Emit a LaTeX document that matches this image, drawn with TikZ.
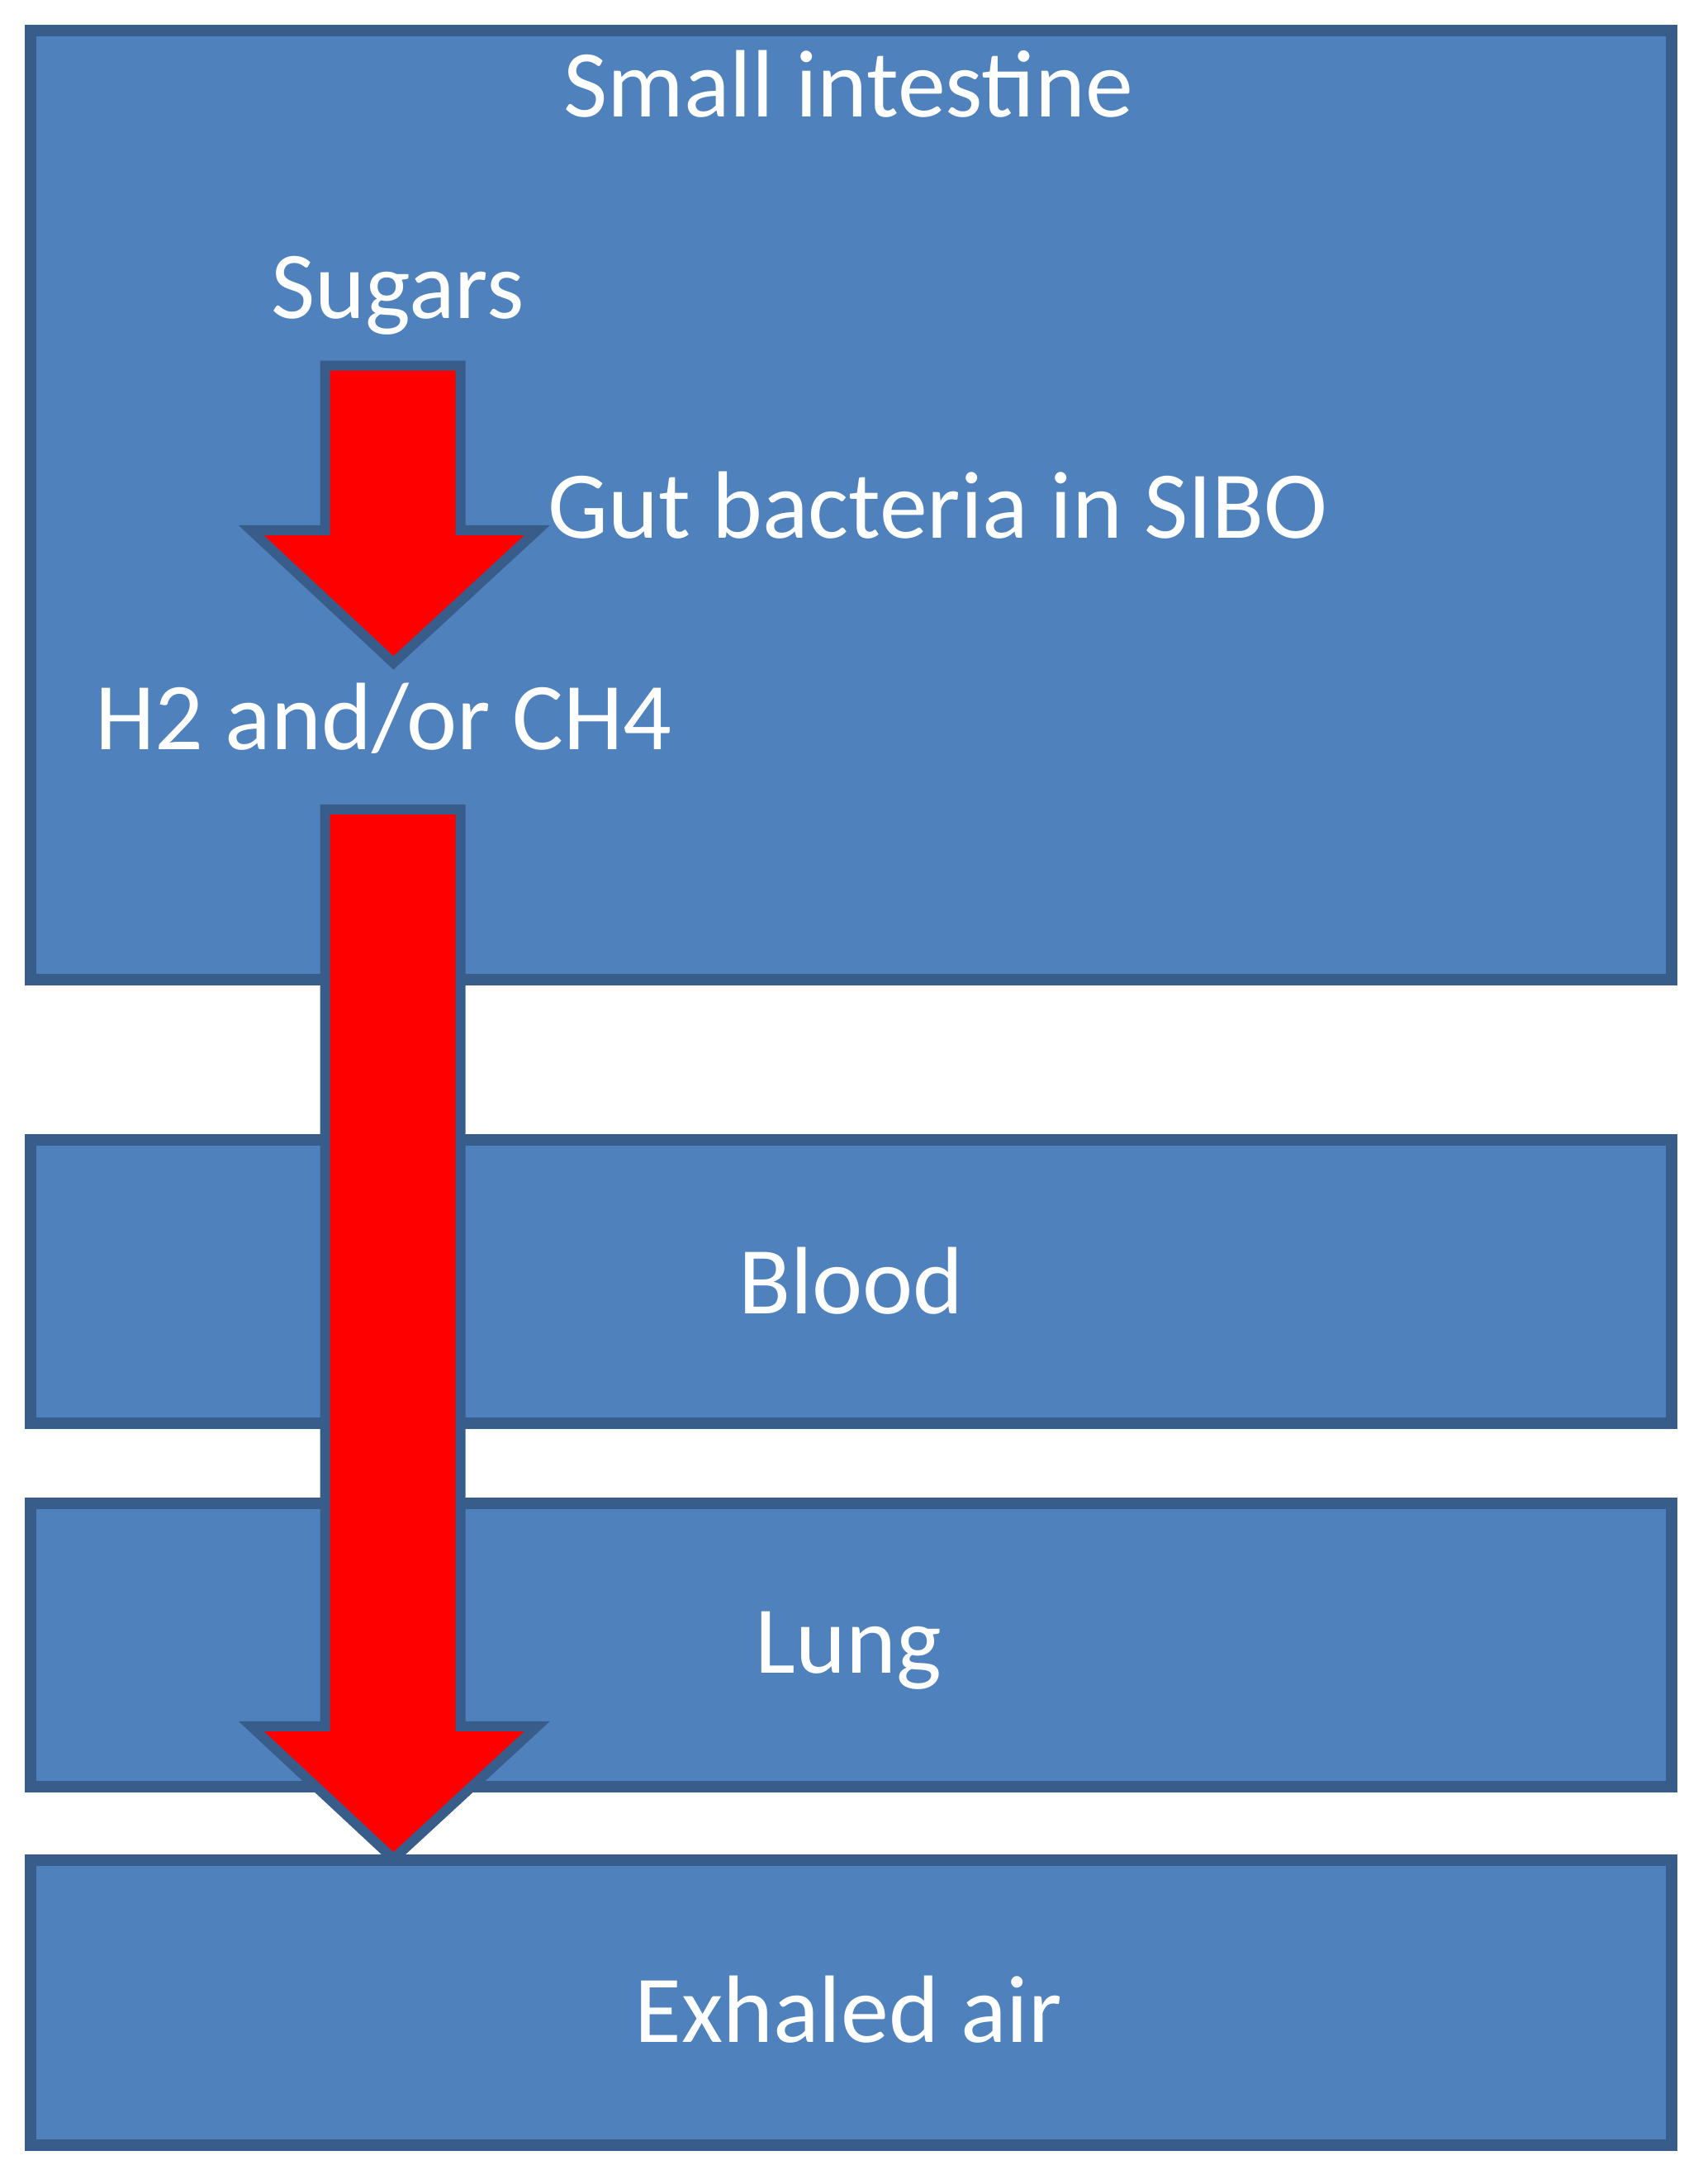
\documentclass[tikz,border=0pt]{standalone}
\usepackage{fontspec}
\setmainfont{Carlito}
\usetikzlibrary{positioning}
\definecolor{boxfill}{HTML}{4F81BD}
\definecolor{boxline}{HTML}{385D8A}
\tikzset{
  layer/.style={rectangle, fill=boxfill, draw=boxline, line width=1.4mm},
  label/.style={text=white, font=\fontsize{33}{40}\selectfont},
  flow/.style={fill=red, draw=boxline, line width=1.2mm, line join=miter}
}

\begin{document}
\begin{tikzpicture}[x=0.0169cm, y=-0.0169cm]
  \useasboundingbox (0,0) rectangle (1220,1565);

  % Layers
  \draw[layer] (22,22) rectangle (1198,702);
  \draw[layer] (22,817) rectangle (1198,1020);
  \draw[layer] (22,1077) rectangle (1198,1280);
  \draw[layer] (22,1333) rectangle (1198,1537);

  % Arrows
  \draw[flow] (233,262) -- (330,262) -- (330,380) -- (385,380) -- (282,475)
    -- (180,380) -- (233,380) -- cycle;
  \draw[flow] (233,580) -- (330,580) -- (330,1237) -- (385,1237) -- (282,1332)
    -- (180,1237) -- (233,1237) -- cycle;

  % Labels
  \node[label] (intestine) at (608,60) {Small intestine};
  \node[label] (sugars) at (285,212) {Sugars};
  \node[label] (bacteria) at (672,362) {Gut bacteria in SIBO};
  \node[label] (gases) at (275,515) {H2 and/or CH4};
  \node[label] (blood) at (610,918) {Blood};
  \node[label] (lung) at (608,1183) {Lung};
  \node[label] (air) at (608,1440) {Exhaled air};
\end{tikzpicture}
\end{document}
